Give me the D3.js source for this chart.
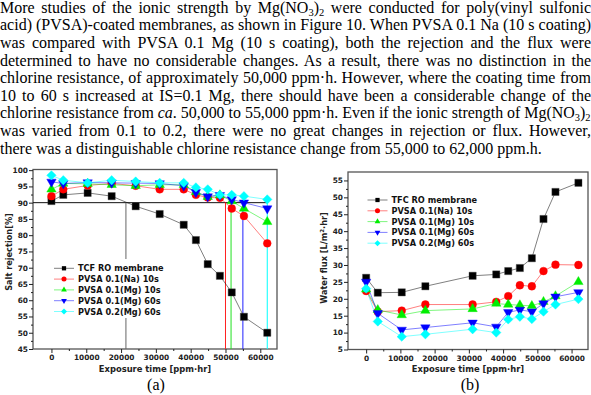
<!DOCTYPE html>
<html>
<head>
<meta charset="utf-8">
<script src="https://cdn.jsdelivr.net/npm/d3@7"></script>
<style>
  body{margin:0;background:#fff}
  svg{display:block}
</style>
</head>
<body>
<svg id="fig" width="591" height="395"></svg>
<script>
// paragraph lines (_{..} = subscript, *..* = italic)
const paraLines = [
  "More studies of the ionic strength by Mg(NO_{3})_{2} were conducted for poly(vinyl sulfonic",
  "acid) (PVSA)-coated membranes, as shown in Figure 10. When PVSA 0.1 Na (10 s coating)",
  "was compared with PVSA 0.1 Mg (10 s coating), both the rejection and the flux were",
  "determined to have no considerable changes. As a result, there was no distinction in the",
  "chlorine resistance, of approximately 50,000 ppm·h. However, where the coating time from",
  "10 to 60 s increased at IS=0.1 Mg, there should have been a considerable change of the",
  "chlorine resistance from *ca*. 50,000 to 55,000 ppm·h. Even if the ionic strength of Mg(NO_{3})_{2}",
  "was varied from 0.1 to 0.2, there were no great changes in rejection or flux. However,",
  "there was a distinguishable chlorine resistance change from 55,000 to 62,000 ppm.h."
]

const seriesNamesA = ['TCF RO membrane','PVSA 0.1(Na) 10s','PVSA 0.1(Mg) 10s','PVSA 0.1(Mg) 60s','PVSA 0.2(Mg) 60s']
const seriesNamesB = ['TFC RO membrane','PVSA 0.1(Na) 10s','PVSA 0.1(Mg) 10s','PVSA 0.1(Mg) 60s','PVSA 0.2(Mg) 60s']

// exposure time [ppm·hr]
const exposureA = [0,3400,10400,17300,24200,31100,38000,41500,44900,48400,51800,55300,62000]
const exposureB = [0,3400,10400,17300,31100,38000,41500,44900,48400,51800,55300,62000]

// salt rejection [%]
const rejTCF   = [90.5,92.4,93.0,92.0,88.9,86.5,83.2,78.5,71.1,67.5,62.4,54.9,50.0]
const rejNa10  = [92.0,94.1,95.3,95.9,95.2,94.1,94.1,92.4,91.6,91.5,88.2,85.9,77.5]
const rejMg10  = [94.1,95.9,95.8,95.5,95.2,95.5,95.5,93.3,91.8,92.3,90.5,88.2,84.1]
const rejMg60  = [96.4,95.9,96.2,96.1,96.0,95.9,95.2,93.2,91.9,92.3,91.0,90.0,88.2]
const rej02Mg  = [98.4,96.9,96.1,96.9,96.5,96.1,96.1,94.7,94.1,92.4,92.4,92.0,91.0]

// water flux [L/m2·hr]
const fluxTFC  = [26.2,21.8,21.9,23.7,26.8,27.2,28.2,29.1,32.0,43.6,51.6,54.3]
const fluxNa10 = [22.3,16.2,16.5,18.3,18.3,19.1,20.8,24.0,23.7,28.2,30.1,30.0]
const fluxMg10 = [22.8,16.7,15.2,16.5,17.0,18.6,18.3,18.1,17.9,19.1,20.8,25.0]
const fluxMg60 = [25.0,15.7,10.8,11.5,12.9,11.7,16.0,16.7,16.2,18.6,20.6,21.9]
const flux02Mg = [23.0,13.3,8.8,9.5,11.0,10.0,13.9,14.7,14.0,16.2,18.3,19.9]

// chlorine resistance limits drawn in (a)
const limitTimes  = [21400,50000,51600,55000,62000]
const limitColors = ['#666','#ff2020','#20e020','#2020ff','#00ffff']

const xTicks = [0,10000,20000,30000,40000,50000,60000]
const xMinor = [5000,15000,25000,35000,45000,55000]
const rejTicks = [45,50,55,60,65,70,75,80,85,90,95,100]
const fluxTicks = [5,10,15,20,25,30,35,40,45,50,55]

const colors = ['#000','#ff0000','#00ee00','#0000ff','#00ffff']
const shapes = ['square','circle','up','down','diamond']

const svg = d3.select('#fig')
svg.append('rect').attr('width',591).attr('height',395).attr('fill','#fff')

// ---- paragraph ----
const para = svg.append('g')
  .attr('font-family','"Liberation Serif","Times New Roman",serif')
  .attr('font-size',16).attr('fill','#000')

paraLines.forEach((ln,i)=>{
  const t = para.append('text').attr('x',0).attr('y',12.7+17.6*i).style('white-space','pre')
  let shifted = false
  ln.split(/(_\{[^}]*\}|\*[^*]*\*)/).filter(s=>s.length).forEach(seg=>{
    const sp = t.append('tspan')
    if (seg.startsWith('_{')) {
      sp.text(seg.slice(2,-1)).attr('font-size',10.5).attr('dy',shifted?0:3)
      shifted = true
    } else {
      if (seg.startsWith('*')) { seg = seg.slice(1,-1); sp.attr('font-style','italic') }
      sp.text(seg)
      if (shifted) { sp.attr('dy',-3); shifted = false }
    }
  })
  if (i < paraLines.length-1) {
    const w = t.node().getComputedTextLength()
    const gaps = (ln.match(/ /g)||[]).length
    if (w > 591) {
      t.attr('transform',`scale(${591/w},1)`)
    } else {
      t.style('word-spacing',((591-w)/gaps)+'px')
    }
  }
})

function symbolPath(shape,size){
  if (shape==='square') return d3.symbol(d3.symbolSquare,size)()
  if (shape==='circle') return d3.symbol(d3.symbolCircle,size)()
  if (shape==='diamond') return d3.symbol(d3.symbolSquare,size)()
  return d3.symbol(d3.symbolTriangle,size*0.8)()
}
function symbolRot(shape){
  if (shape==='down') return 180
  if (shape==='diamond') return 45
  return 0
}

const sans = '"DejaVu Sans",Verdana,sans-serif'

function drawChart(o){
  const g = svg.append('g')
  const x = d3.scaleLinear().domain([-5300,64800]).range([o.left,o.right])
  const y = d3.scaleLinear().domain(o.yDomain).range([o.bottom,o.top])

  // frame
  g.append('rect')
    .attr('x',o.left).attr('y',o.top)
    .attr('width',o.right-o.left).attr('height',o.bottom-o.top)
    .attr('fill','none').attr('stroke','#555').attr('stroke-width',1.3)

  const styleAxis = sel=>{
    sel.select('.domain').remove()
    sel.selectAll('line').attr('stroke','#222')
    sel.selectAll('text').attr('font-family',sans)
      .attr('font-weight','bold').attr('font-size',7.4).attr('fill','#222')
  }

  g.append('g').attr('transform',`translate(0,${o.bottom})`)
    .call(d3.axisBottom(x).tickValues(xTicks).tickSize(4).tickPadding(2).tickFormat(d3.format('d')))
    .call(styleAxis)
  g.append('g').attr('transform',`translate(0,${o.bottom})`)
    .call(d3.axisBottom(x).tickValues(xMinor).tickSize(2).tickFormat(''))
    .call(styleAxis)
  g.append('g').attr('transform',`translate(${o.left},0)`)
    .call(d3.axisLeft(y).tickValues(o.yTicks).tickSize(4).tickPadding(1))
    .call(styleAxis)
  g.append('g').attr('transform',`translate(${o.left},0)`)
    .call(d3.axisLeft(y).tickValues(o.yTicks.slice(0,-1).map(v=>v+2.5)).tickSize(2).tickFormat(''))
    .call(styleAxis)

  // axis titles
  g.append('text').attr('x',(o.left+o.right)/2).attr('y',o.bottom+22.5)
    .attr('text-anchor','middle').attr('font-family',sans)
    .attr('font-weight','bold').attr('font-size',8.4).attr('fill','#222')
    .text('Exposure time [ppm·hr]')
  const yt = g.append('text').attr('transform',`translate(${o.yTitleX},${o.yTitleY}) rotate(-90)`)
    .attr('text-anchor','middle').attr('font-family',sans)
    .attr('font-weight','bold').attr('font-size',8.2).attr('fill','#222')
  o.yTitle.forEach(p=>{
    const sp = yt.append('tspan').text(p.t)
    if (p.sup) sp.attr('font-size',5.5).attr('dy',-3)
    else if (p.after) sp.attr('dy',3)
  })

  if (o.extra) o.extra(g,x,y)

  // series
  const line = d3.line().x(d=>x(d[0])).y(d=>y(d[1]))
  o.series.forEach((vals,k)=>{
    const pts = vals.map((v,j)=>[o.xs[j],v])
    g.append('path').datum(pts).attr('d',line)
      .attr('fill','none').attr('stroke',colors[k]).attr('stroke-opacity',0.5).attr('stroke-width',1)
  })
  o.series.forEach((vals,k)=>{
    const sz = shapes[k]==='diamond' ? 44 : shapes[k]==='square' ? 52 : 48
    g.append('g').selectAll('path').data(vals.map((v,j)=>[o.xs[j],v])).join('path')
      .attr('d',symbolPath(shapes[k],sz))
      .attr('transform',d=>`translate(${x(d[0])},${y(d[1])}) rotate(${symbolRot(shapes[k])})`)
      .attr('fill',colors[k]).attr('stroke',k===0?'#444':colors[k]).attr('stroke-width',0.4)
  })

  // legend
  const lg = g.append('g')
  if (o.legendBg) lg.append('rect').attr('x',o.legendBg[0]).attr('y',o.legendBg[1])
    .attr('width',o.legendBg[2]).attr('height',o.legendBg[3]).attr('fill','#fff')
  o.names.forEach((nm,k)=>{
    const ly = o.legendY + k*10.8
    lg.append('line').attr('x1',o.legendX).attr('x2',o.legendX+20).attr('y1',ly).attr('y2',ly)
      .attr('stroke',colors[k]).attr('stroke-opacity',0.5)
    lg.append('path').attr('d',symbolPath(shapes[k],shapes[k]==='circle'?20:18))
      .attr('transform',`translate(${o.legendX+10},${ly}) rotate(${symbolRot(shapes[k])})`)
      .attr('fill',colors[k])
    lg.append('text').attr('x',o.legendX+24).attr('y',ly+3)
      .attr('font-family',sans).attr('font-weight','bold')
      .attr('font-size',8.2).attr('fill','#111').text(nm)
  })

  // caption
  svg.append('text').attr('x',o.capX).attr('y',389.5)
    .attr('text-anchor','middle').attr('font-family','"Liberation Serif","Times New Roman",serif')
    .attr('font-size',16).text(o.caption)
}

drawChart({
  left:33, right:277, top:169.5, bottom:349,
  yDomain:[45,100.2], yTicks:rejTicks,
  xs:exposureA, series:[rejTCF,rejNa10,rejMg10,rejMg60,rej02Mg], names:seriesNamesA,
  yTitle:[{t:'Salt rejection[%]'}], yTitleX:12, yTitleY:252,
  legendX:54, legendY:268.3, legendBg:[50,259,118,59],
  caption:'(a)', capX:156,
  extra:(g,x,y)=>{
    g.append('line').attr('x1',x.range()[0]).attr('x2',x(62000)).attr('y1',y(90)).attr('y2',y(90))
      .attr('stroke','#111').attr('stroke-width',1)
    limitTimes.forEach((t,k)=>{
      g.append('line').attr('x1',x(t)).attr('x2',x(t)).attr('y1',y(90)).attr('y2',y(45))
        .attr('stroke',limitColors[k]).attr('stroke-width',1)
    })
  }
})

drawChart({
  left:348, right:588, top:172, bottom:349.5,
  yDomain:[5,57.5], yTicks:fluxTicks,
  xs:exposureB, series:[fluxTFC,fluxNa10,fluxMg10,fluxMg60,flux02Mg], names:seriesNamesB,
  yTitle:[{t:'Water flux [L/m'},{t:'2',sup:true},{t:'·hr]',after:true}], yTitleX:327, yTitleY:258,
  legendX:367.5, legendY:200,
  caption:'(b)', capX:470
})
</script>
</body>
</html>
